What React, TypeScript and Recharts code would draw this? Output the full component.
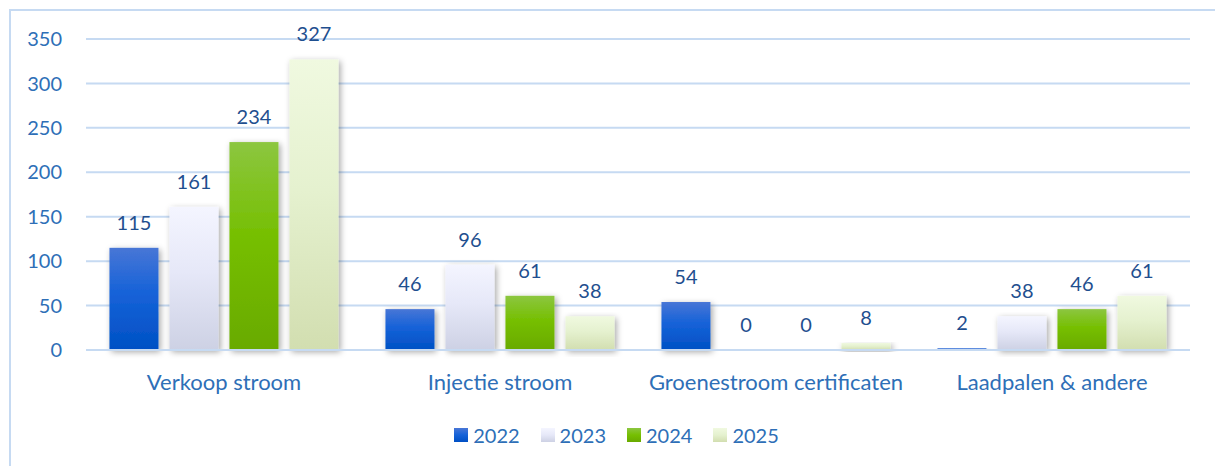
import React from 'react';
import { BarChart, Bar, XAxis, YAxis, CartesianGrid, Legend, LabelList } from 'recharts';

const categories = ['Verkoop stroom', 'Injectie stroom', 'Groenestroom certificaten', 'Laadpalen & andere'];
const years = ['2022', '2023', '2024', '2025'];
const v2022 = [115, 46, 54, 2];
const v2023 = [161, 96, 0, 38];
const v2024 = [234, 61, 0, 46];
const v2025 = [327, 38, 8, 61];
const yTicks = [0, 50, 100, 150, 200, 250, 300, 350];

const data = categories.map((name, i) => ({
  name,
  '2022': v2022[i],
  '2023': v2023[i],
  '2024': v2024[i],
  '2025': v2025[i],
}));

const gradients: Record<string, [string, string, string]> = {
  '2022': ['#4876d6', '#1562d8', '#0050c4'],
  '2023': ['#f4f5ff', '#e6e8f8', '#cdd1e4'],
  '2024': ['#8cc640', '#76bf02', '#69aa00'],
  '2025': ['#f0f9e0', '#e5f1cf', '#d2deb0'],
};

const TICK_BLUE = '#2e6fb7';
const LABEL_BLUE = '#1f4f8f';
const GRID = '#c6daf2';

const ShadowBar = (props: any) => {
  const { x, y, width, height, fill } = props;
  if (!height || height <= 0) return <g />;
  return <rect x={x} y={y} width={width} height={height} fill={fill} filter="url(#barShadow)" />;
};

const LegendContent = () => (
  <div
    style={{
      display: 'flex',
      justifyContent: 'center',
      alignItems: 'center',
      height: 24,
      paddingLeft: 64,
      fontSize: 20,
      color: TICK_BLUE,
    }}
  >
    {years.map((yr) => {
      const [a, b, c] = gradients[yr];
      return (
        <div key={yr} style={{ display: 'flex', alignItems: 'center', marginRight: 21 }}>
          <div
            style={{
              width: 14,
              height: 14,
              marginRight: 5,
              background: `linear-gradient(${a}, ${b}, ${c})`,
            }}
          />
          <span>{yr}</span>
        </div>
      );
    })}
  </div>
);

export default function App() {
  return (
    <div
      style={{
        position: 'absolute',
        left: 0,
        top: 0,
        width: 1215,
        height: 466,
        background: '#fff',
        fontFamily: 'Lato, sans-serif',
        overflow: 'hidden',
      }}
    >
      <div
        style={{
          position: 'absolute',
          left: 9,
          top: 9,
          width: 1300,
          height: 600,
          borderTop: `2px solid ${GRID}`,
          borderLeft: `2px solid ${GRID}`,
        }}
      />
      <BarChart
        width={1215}
        height={466}
        data={data}
        margin={{ top: 39, right: 25, left: 0, bottom: 19 }}
        barCategoryGap="8.5%"
        barGap={11}
      >
        <defs>
          {years.map((yr) => (
            <linearGradient key={yr} id={`g${yr}`} x1="0" y1="0" x2="0" y2="1">
              <stop offset="0%" stopColor={gradients[yr][0]} />
              <stop offset="45%" stopColor={gradients[yr][1]} />
              <stop offset="100%" stopColor={gradients[yr][2]} />
            </linearGradient>
          ))}
          <filter id="barShadow" x="-30%" y="-10%" width="160%" height="130%">
            <feDropShadow dx="2" dy="2" stdDeviation="3" floodColor="#000" floodOpacity="0.35" />
          </filter>
        </defs>
        <CartesianGrid vertical={false} stroke={GRID} strokeWidth={2} />
        <XAxis
          dataKey="name"
          height={73}
          tickLine={false}
          axisLine={{ stroke: GRID, strokeWidth: 2 }}
          tickSize={0}
          tickMargin={24}
          tick={{ fill: TICK_BLUE, fontSize: 22 }}
        />
        <YAxis
          width={86}
          domain={[0, 350]}
          ticks={yTicks}
          axisLine={false}
          tickLine={false}
          tickSize={0}
          tickMargin={24}
          tick={{ fill: TICK_BLUE, fontSize: 20 }}
        />
        <Legend verticalAlign="bottom" content={<LegendContent />} />
        {years.map((yr) => (
          <Bar key={yr} dataKey={yr} fill={`url(#g${yr})`} shape={ShadowBar} isAnimationActive={false}>
            <LabelList dataKey={yr} position="top" offset={18} fill={LABEL_BLUE} fontSize={20} />
          </Bar>
        ))}
      </BarChart>
    </div>
  );
}
